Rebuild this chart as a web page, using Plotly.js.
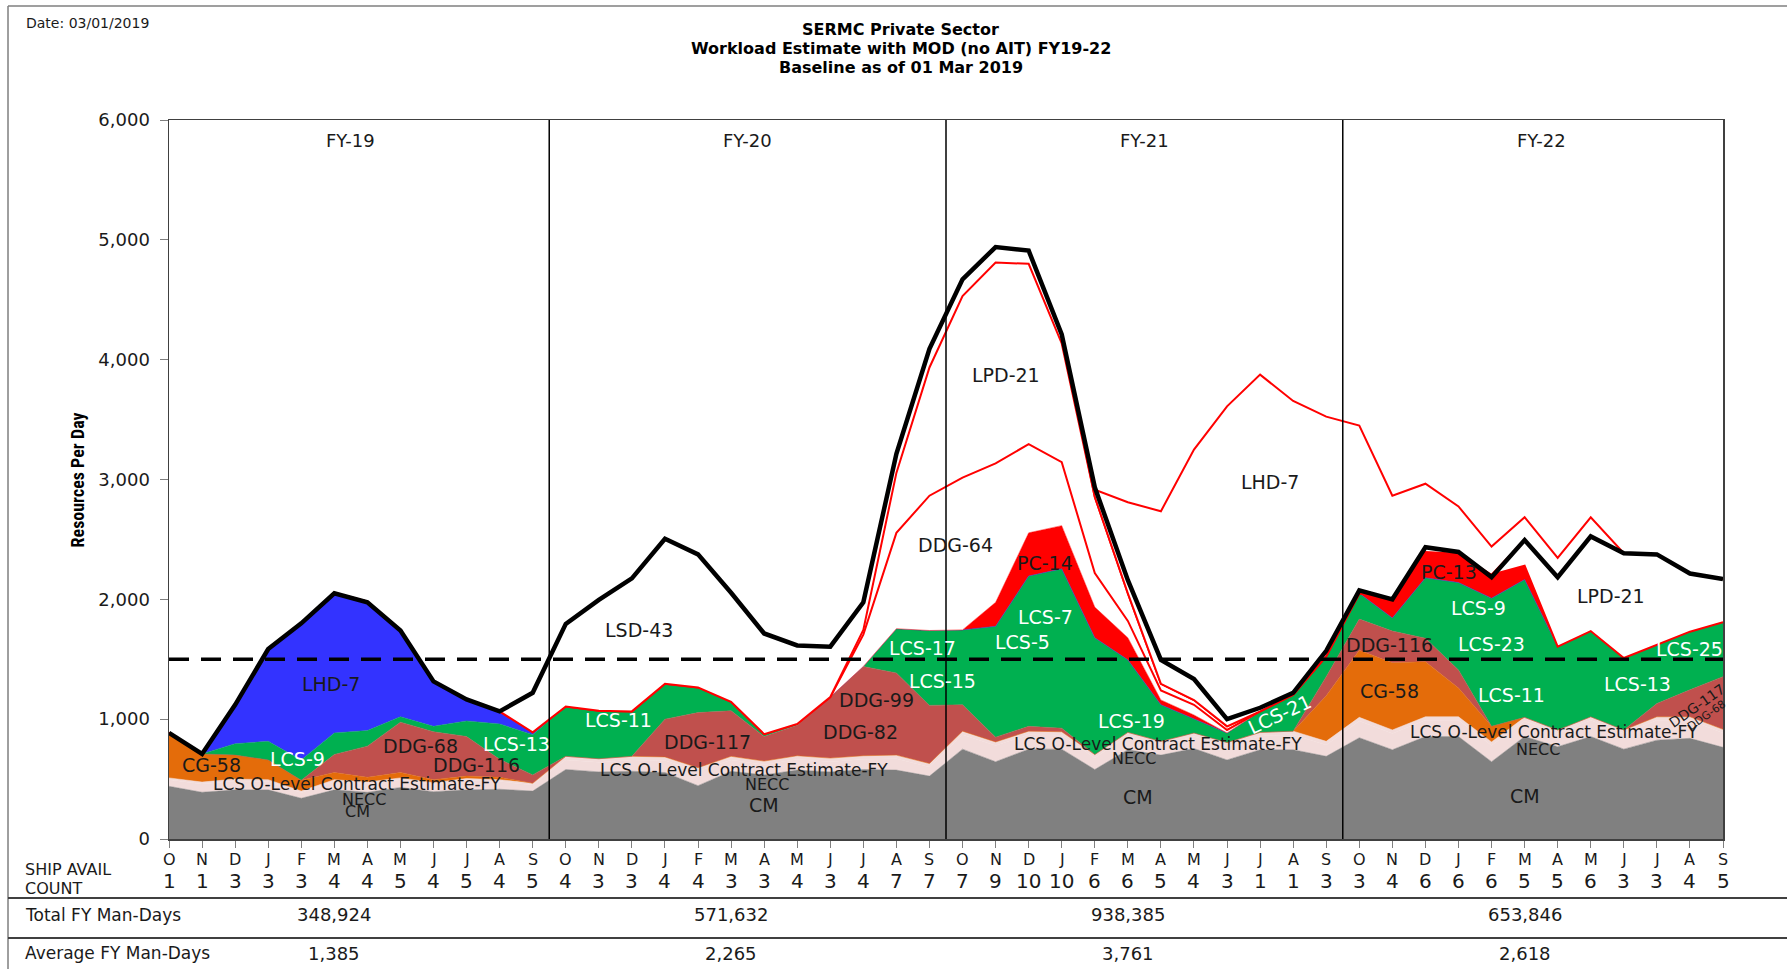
<!DOCTYPE html>
<html>
<head>
<meta charset="utf-8">
<script src="https://cdn.plot.ly/plotly-3.0.1.min.js"></script>
<style>
  body { margin: 0; background: #fff; }
  #chart { width: 1787px; height: 969px; }
</style>
</head>
<body>
<div id="chart"></div>
<script>
// months of one fiscal year, Oct..Sep
const fiscalMonths = ['O', 'N', 'D', 'J', 'F', 'M', 'A', 'M', 'J', 'J', 'A', 'S'];
const fyNames = ['FY-19', 'FY-20', 'FY-21', 'FY-22'];
const totalManDays = ['348,924', '571,632', '938,385', '653,846'];
const avgManDays = ['1,385', '2,265', '3,761', '2,618'];
const capacity = 1500;

const availCount = [1, 1, 3, 3, 3, 4, 4, 5, 4, 5, 4, 5,
                    4, 3, 3, 4, 4, 3, 3, 4, 3, 4, 7, 7,
                    7, 9, 10, 10, 6, 6, 5, 4, 3, 1, 1, 3,
                    3, 4, 6, 6, 6, 5, 5, 6, 3, 3, 4, 5];

// stacked layers, bottom to top (resources per day)
const cm = [440, 390, 410, 410, 340, 410, 390, 430, 395, 410, 415, 400,
            580, 560, 565, 555, 445, 565, 535, 575, 560, 580, 575, 525,
            750, 645, 750, 750, 580, 745, 700, 755, 660, 745, 745, 690,
            845, 745, 855, 855, 645, 855, 770, 855, 750, 825, 840, 765];
const necc = [55, 70, 75, 70, 45, 70, 70, 65, 60, 80, 65, 50,
              80, 80, 95, 100, 120, 95, 85, 90, 85, 85, 95, 75,
              120, 135, 120, 115, 95, 115, 85, 100, 115, 115, 125, 95,
              140, 135, 135, 135, 135, 130, 110, 135, 130, 165, 150, 120];
const lcsOLevel = [15, 15, 15, 15, 15, 15, 15, 15, 15, 15, 15, 15,
                   30, 30, 30, 30, 30, 30, 30, 30, 30, 30, 30, 30,
                   30, 30, 30, 30, 30, 30, 30, 30, 30, 30, 30, 30,
                   30, 30, 30, 30, 30, 30, 30, 30, 30, 30, 30, 30];
const cg58 = [375, 235, 200, 165, 90, 60, 40, 45, 25, 20, 20, 0,
              0, 0, 0, 0, 0, 0, 0, 0, 0, 0, 0, 0,
              0, 0, 0, 0, 0, 0, 0, 0, 0, 0, 0, 380,
              560, 560, 460, 240, 130, 0, 0, 0, 0, 0, 0, 0];
const ddg = [0, 0, 0, 0, 0, 150, 260, 420, 400, 330, 150, 70,
             0, 0, 0, 315, 460, 380, 205, 255, 510, 745, 685, 485,
             220, 40, 40, 30, 0, 0, 0, 0, 0, 0, 0, 160,
             260, 265, 195, 150, 0, 0, 0, 0, 0, 110, 225, 440];
const lcs = [0, 0, 95, 155, 170, 180, 130, 45, 45, 130, 295, 335,
             415, 400, 375, 295, 210, 75, 20, 10, 0, 0, 370, 625,
             625, 925, 1255, 1330, 975, 605, 305, 120, 80, 175, 305, 170,
             215, 110, 505, 730, 1070, 1150, 695, 715, 600, 490, 485, 455];
const lhd7Fy19 = [0, 0, 330, 770, 1140, 1170, 1075, 720, 375, 180, 105, 20,
                  0, 0, 0, 0, 0, 0, 0, 0, 0, 0, 0, 0,
                  0, 0, 0, 0, 0, 0, 0, 0, 0, 0, 0, 0,
                  0, 0, 0, 0, 0, 0, 0, 0, 0, 0, 0, 0];
const pc = [0, 0, 0, 0, 0, 0, 0, 0, 0, 0, 0, 0,
            0, 0, 0, 0, 0, 0, 0, 0, 0, 0, 0, 0,
            0, 200, 360, 360, 255, 185, 40, 30, 0, 0, 0, 0,
            0, 160, 215, 240, 195, 115, 0, 0, 0, 0, 0, 0];
const ddg64 = [0, 0, 0, 0, 0, 0, 0, 0, 0, 0, 0, 0,
               0, 0, 0, 0, 0, 0, 0, 0, 0, 265, 800, 1125,
               1270, 1160, 740, 530, 285, 140, 80, 85, 25, 0, 0, 0,
               0, 0, 0, 0, 0, 0, 0, 0, 0, 0, 0, 0];
const lpd21 = [0, 0, 0, 0, 0, 0, 0, 0, 0, 0, 0, 0,
               0, 0, 0, 0, 0, 0, 0, 0, 0, 40, 500, 1070,
               1515, 1675, 1505, 990, 635, 230, 55, 40, 30, 0, 0, 0,
               0, 0, 0, 0, 0, 215, 575, 790, 875, 755, 485, 360];
const lsd43 = [0, 0, 0, 0, 0, 0, 0, 0, 0, 0, 0, 330,
               690, 925, 1110, 1210, 1110, 910, 840, 655, 420, 230, 160, 160,
               140, 130, 110, 75, 0, 0, 0, 0, 0, 0, 0, 0,
               0, 0, 0, 0, 0, 0, 0, 0, 0, 0, 0, 0];
const lhd7 = [0, 0, 0, 0, 0, 0, 0, 0, 0, 0, 0, 0,
              0, 0, 0, 0, 0, 0, 0, 0, 0, 0, 0, 0,
              0, 0, 0, 0, 60, 760, 1440, 2090, 2670, 2810, 2450, 2000,
              1400, 860, 570, 395, 235, 190, 165, 160, 0, 0, 0, 0];

// black total line
const totalLine = [885, 710, 1120, 1585, 1800, 2050, 1975, 1740, 1315, 1165, 1065, 1220,
                   1795, 1995, 2175, 2505, 2375, 2055, 1715, 1615, 1605, 1975, 3215, 4090,
                   4670, 4940, 4910, 4210, 2935, 2160, 1495, 1335, 1000, 1095, 1220, 1570,
                   2075, 2000, 2435, 2395, 2185, 2495, 2185, 2525, 2385, 2375, 2215, 2170];

const months = [].concat(fiscalMonths, fiscalMonths, fiscalMonths, fiscalMonths);
const xIdx = months.map((m, i) => i);

const layers = [
    {name: 'CM', values: cm, fill: '#808080', line: '#808080', width: 0.5},
    {name: 'NECC', values: necc, fill: '#f2dcdb', line: '#f2dcdb', width: 0.5},
    {name: 'LCS O-Level Contract Estimate-FY', values: lcsOLevel, fill: '#f2dcdb', line: '#f2dcdb', width: 0.5},
    {name: 'CG-58', values: cg58, fill: '#e46c0a', line: '#e46c0a', width: 0.5},
    {name: 'DDG', values: ddg, fill: '#c0504d', line: '#c0504d', width: 0.5},
    {name: 'LCS', values: lcs, fill: '#00b050', line: '#00b050', width: 0.5},
    {name: 'LHD-7 FY19', values: lhd7Fy19, fill: '#3333ff', line: '#3333ff', width: 0.5},
    {name: 'PC', values: pc, fill: '#ff0000', line: '#ff0000', width: 0.5},
    {name: 'DDG-64', values: ddg64, fill: '#ffffff', line: '#ff0000', width: 2},
    {name: 'LPD-21', values: lpd21, fill: '#ffffff', line: '#ff0000', width: 2},
    {name: 'LSD-43', values: lsd43, fill: '#ffffff', line: '#ff0000', width: 2},
    {name: 'LHD-7', values: lhd7, fill: '#ffffff', line: '#ff0000', width: 2}
];

const traces = layers.map(l => ({
    x: xIdx,
    y: l.values,
    name: l.name,
    type: 'scatter',
    mode: 'lines',
    stackgroup: 'one',
    fillcolor: l.fill,
    line: {color: l.line, width: l.width},
    hoverinfo: 'skip'
}));

traces.push({
    x: xIdx,
    y: totalLine,
    name: 'Total',
    type: 'scatter',
    mode: 'lines',
    line: {color: '#000000', width: 4.5},
    hoverinfo: 'skip'
});

// labels inside the areas
const labelSpots = [
    {t: 'LHD-7', x: 4.9, y: 1290},
    {t: 'CG-58', x: 1.3, y: 615},
    {t: 'LCS-9', x: 3.9, y: 670, w: true},
    {t: 'DDG-68', x: 7.6, y: 775},
    {t: 'DDG-116', x: 9.3, y: 615},
    {t: 'LCS-13', x: 10.5, y: 790, w: true},
    {t: 'LCS O-Level Contract Estimate-FY', x: 5.7, y: 460, s: 17},
    {t: 'LCS O-Level Contract Estimate-FY', x: 17.4, y: 578, s: 17},
    {t: 'LCS O-Level Contract Estimate-FY', x: 29.9, y: 792, s: 17},
    {t: 'LCS O-Level Contract Estimate-FY', x: 41.9, y: 897, s: 17},
    {t: 'NECC', x: 5.9, y: 330, s: 16},
    {t: 'NECC', x: 18.1, y: 455, s: 16},
    {t: 'NECC', x: 29.2, y: 668, s: 16},
    {t: 'NECC', x: 41.4, y: 745, s: 16},
    {t: 'CM', x: 5.7, y: 230, s: 16},
    {t: 'CM', x: 18.0, y: 285},
    {t: 'CM', x: 29.3, y: 352},
    {t: 'CM', x: 41.0, y: 361},
    {t: 'LCS-11', x: 13.6, y: 989, w: true},
    {t: 'DDG-117', x: 16.3, y: 812},
    {t: 'LSD-43', x: 14.2, y: 1740},
    {t: 'DDG-99', x: 21.4, y: 1160},
    {t: 'DDG-82', x: 20.9, y: 894},
    {t: 'LCS-17', x: 22.8, y: 1597, w: true},
    {t: 'LCS-15', x: 23.4, y: 1322, w: true},
    {t: 'DDG-64', x: 23.8, y: 2453},
    {t: 'LPD-21', x: 25.3, y: 3870},
    {t: 'PC-14', x: 26.5, y: 2301},
    {t: 'LCS-7', x: 26.5, y: 1854, w: true},
    {t: 'LCS-5', x: 25.8, y: 1645, w: true},
    {t: 'LCS-19', x: 29.1, y: 985, w: true},
    {t: 'LHD-7', x: 33.3, y: 2976},
    {t: 'LCS-21', x: 33.6, y: 1045, w: true, a: -25},
    {t: 'DDG-116', x: 36.9, y: 1616},
    {t: 'CG-58', x: 36.9, y: 1236},
    {t: 'PC-13', x: 38.7, y: 2225},
    {t: 'LCS-9', x: 39.6, y: 1930, w: true},
    {t: 'LCS-23', x: 40.0, y: 1626, w: true},
    {t: 'LCS-11', x: 40.6, y: 1198, w: true},
    {t: 'LPD-21', x: 43.6, y: 2025},
    {t: 'LCS-13', x: 44.4, y: 1293, w: true},
    {t: 'LCS-25', x: 46.0, y: 1588, w: true},
    {t: 'DDG-117', x: 46.2, y: 1110, a: -35, s: 14},
    {t: 'DDG-68', x: 46.5, y: 1030, a: -35, s: 11}
];

const labelFont = '"DejaVu Sans", Verdana, sans-serif';
const dark = '#1a1a1a';
const annotations = [];

labelSpots.forEach(l => {
    annotations.push({
        x: l.x, y: l.y, xref: 'x', yref: 'y', text: l.t, showarrow: false,
        textangle: l.a || 0,
        font: {family: labelFont, size: l.s || 19, color: l.w ? '#ffffff' : dark}
    });
});

// fiscal year headers and table rows
fyNames.forEach((fy, k) => {
    const cx = 5.5 + 12 * k;
    annotations.push({x: cx, y: 5830, xref: 'x', yref: 'y', text: fy, showarrow: false,
        font: {family: labelFont, size: 18, color: dark}});
    annotations.push({x: cx - 0.5, y: -0.1057, xref: 'x', yref: 'paper', yanchor: 'middle',
        text: totalManDays[k], showarrow: false, font: {family: labelFont, size: 18, color: dark}});
    annotations.push({x: cx - 0.5, y: -0.1586, xref: 'x', yref: 'paper', yanchor: 'middle',
        text: avgManDays[k], showarrow: false, font: {family: labelFont, size: 18, color: dark}});
});

months.forEach((m, i) => {
    annotations.push({x: i, y: -0.0285, xref: 'x', yref: 'paper', yanchor: 'middle', text: m,
        showarrow: false, font: {family: labelFont, size: 16, color: dark}});
    annotations.push({x: i, y: -0.0590, xref: 'x', yref: 'paper', yanchor: 'middle',
        text: String(availCount[i]), showarrow: false, font: {family: labelFont, size: 20, color: dark}});
});

const rowText = [
    {t: 'SHIP AVAIL', y: -0.0420, s: 16},
    {t: 'COUNT', y: -0.0690, s: 16},
    {t: 'Total FY Man-Days', y: -0.1057, s: 17},
    {t: 'Average FY Man-Days', y: -0.1586, s: 17}
];
rowText.forEach(r => {
    annotations.push({x: -0.094, y: r.y, xref: 'paper', yref: 'paper', xanchor: 'left', yanchor: 'middle',
        text: r.t, showarrow: false, font: {family: labelFont, size: r.s, color: dark}});
});

const titleLines = ['SERMC Private Sector', 'Workload Estimate with MOD (no AIT) FY19-22', 'Baseline as of 01 Mar 2019'];
const titleY = [1.1260, 1.0990, 1.0725];
titleLines.forEach((t, k) => {
    annotations.push({
        x: 0.471, y: titleY[k], xref: 'paper', yref: 'paper', yanchor: 'middle', showarrow: false,
        text: '<b>' + t + '</b>',
        font: {family: labelFont, size: 16, color: '#000'}
    });
});
annotations.push({
    x: -0.093, y: 1.135, xref: 'paper', yref: 'paper', xanchor: 'left', yanchor: 'middle', showarrow: false,
    text: 'Date: 03/01/2019',
    font: {family: labelFont, size: 14, color: dark}
});
annotations.push({
    x: -0.0586, y: 0.5, xref: 'paper', yref: 'paper', showarrow: false, textangle: -90,
    xanchor: 'center', yanchor: 'middle',
    text: '<b>Resources Per Day</b>',
    font: {family: '"Liberation Sans Narrow", "Roboto Condensed", Roboto, sans-serif', size: 18, color: '#000'}
});

const shapes = [];
[11.5, 23.5, 35.5].forEach(xb => {
    shapes.push({type: 'line', xref: 'x', yref: 'y', x0: xb, x1: xb, y0: 0, y1: 6000,
        line: {color: '#000', width: 1.5}});
});
shapes.push({type: 'line', xref: 'x', yref: 'y', x0: 0, x1: 47, y0: capacity, y1: capacity,
    line: {color: '#000', width: 3.5, dash: '20px,12px'}});
// outer frame and table rules
shapes.push({type: 'line', xref: 'paper', yref: 'paper', x0: -0.1036, x1: -0.1036, y0: -0.2, y1: 1.1586,
    line: {color: '#7f7f7f', width: 1.5}});
shapes.push({type: 'line', xref: 'paper', yref: 'paper', x0: -0.1036, x1: 1.05, y0: 1.1586, y1: 1.1586,
    line: {color: '#7f7f7f', width: 1.5}});
shapes.push({type: 'line', xref: 'paper', yref: 'paper', x0: -0.1036, x1: 1.05, y0: -0.0821, y1: -0.0821,
    line: {color: '#404040', width: 2}});
shapes.push({type: 'line', xref: 'paper', yref: 'paper', x0: -0.1036, x1: 1.05, y0: -0.1377, y1: -0.1377,
    line: {color: '#404040', width: 2}});

const layout = {
    width: 1787,
    height: 969,
    margin: {l: 169, r: 64, t: 120, b: 130},
    paper_bgcolor: '#ffffff',
    plot_bgcolor: '#ffffff',
    showlegend: false,
    hovermode: false,
    xaxis: {
        range: [0, 47],
        tickvals: xIdx,
        showticklabels: false,
        ticks: 'outside',
        ticklen: 7,
        tickcolor: '#7f7f7f',
        showline: true,
        linecolor: '#404040',
        linewidth: 1.5,
        mirror: true,
        showgrid: false,
        zeroline: false
    },
    yaxis: {
        range: [0, 6000],
        tickvals: [0, 1000, 2000, 3000, 4000, 5000, 6000],
        tickformat: ',',
        ticks: 'outside',
        ticklen: 8,
        tickcolor: '#7f7f7f',
        tickfont: {family: labelFont, size: 18, color: dark},
        ticklabelstandoff: 6,
        showline: true,
        linecolor: '#404040',
        linewidth: 1.5,
        mirror: true,
        showgrid: false,
        zeroline: false
    },
    annotations: annotations,
    shapes: shapes
};

Plotly.newPlot('chart', traces, layout, {staticPlot: true});
</script>
</body>
</html>
